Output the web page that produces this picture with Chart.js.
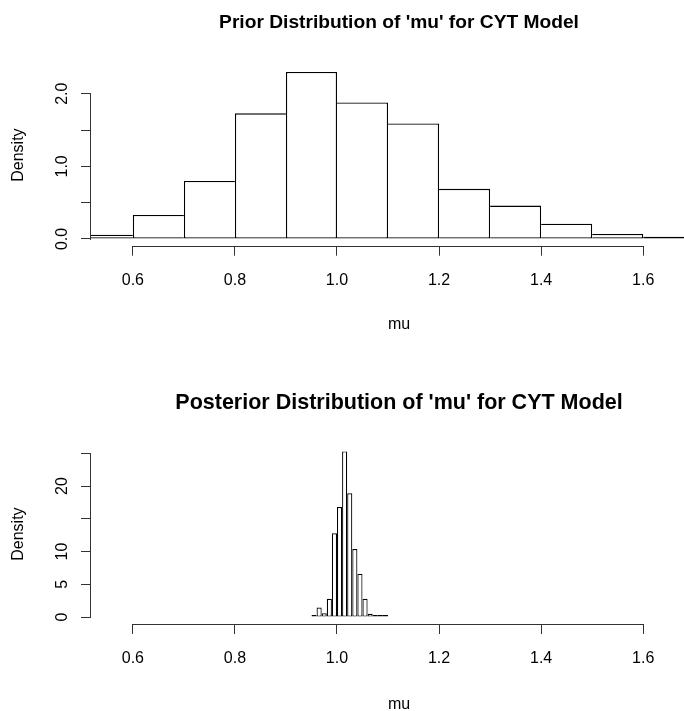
<!DOCTYPE html>
<html lang="en">
<head>
<meta charset="UTF-8" />
<title>Prior and Posterior Distribution of mu</title>
<script src="https://cdn.jsdelivr.net/npm/chart.js"></script>
<style>
  html, body { margin: 0; padding: 0; background: #fff; overflow: hidden; }
  canvas { position: absolute; left: 0; }
  #priorChart { top: 0; }
  #postChart { top: 380px; }
</style>
</head>
<body>
<canvas id="priorChart" width="708" height="340"></canvas>
<canvas id="postChart" width="708" height="340"></canvas>

<script>
  // x axis, same for both panels
  const xTicks = [0.6, 0.8, 1.0, 1.2, 1.4, 1.6];
  const xTickLabels = ["0.6", "0.8", "1.0", "1.2", "1.4", "1.6"];

  // prior histogram: bin midpoints (width 0.1) and density
  const priorMids = [0.55, 0.65, 0.75, 0.85, 0.95, 1.05, 1.15, 1.25, 1.35, 1.45, 1.55, 1.65];
  const priorDensity = [0.06, 0.33, 0.80, 1.73, 2.30, 1.88, 1.59, 0.69, 0.46, 0.21, 0.07, 0.03];
  const priorYTicks = [0, 0.5, 1.0, 1.5, 2.0];
  const priorYLabels = ["0.0", "", "1.0", "", "2.0"];

  // posterior histogram: bin midpoints (width 0.01) and density
  const postMids = [0.955, 0.965, 0.975, 0.985, 0.995, 1.005, 1.015, 1.025, 1.035, 1.045, 1.055, 1.065, 1.075, 1.085, 1.095];
  const postDensity = [0.1, 1.45, 0.6, 2.8, 12.8, 16.8, 25.3, 18.9, 10.4, 6.6, 2.8, 0.5, 0.3, 0.1, 0.15];
  const postYTicks = [0, 5, 10, 15, 20, 25];
  const postYLabels = ["0", "5", "10", "", "20", ""];

  const FONT = "'Liberation Sans', Arial, sans-serif";
  const AXIS = "#333";

  // R style axes: lines only from first to last tick, rotated y labels, title over plot
  const rAxes = {
    id: "rAxes",
    afterDraw(chart, args, opts) {
      const { ctx, chartArea, scales: { x, y } } = chart;
      ctx.save();
      ctx.strokeStyle = AXIS;
      ctx.lineWidth = 1;

      const xb = Math.round(chartArea.bottom) + 0.5;
      ctx.beginPath();
      ctx.moveTo(Math.round(x.getPixelForValue(xTicks[0])), xb);
      ctx.lineTo(Math.round(x.getPixelForValue(xTicks[xTicks.length - 1])) + 1, xb);
      ctx.stroke();

      const yl = Math.round(chartArea.left) - 0.5;
      ctx.beginPath();
      ctx.moveTo(yl, Math.round(y.getPixelForValue(opts.yTicks[0])) + 1);
      ctx.lineTo(yl, Math.round(y.getPixelForValue(opts.yTicks[opts.yTicks.length - 1])));
      ctx.stroke();

      ctx.fillStyle = "#000";
      ctx.font = "16px " + FONT;
      ctx.textAlign = "center";
      ctx.textBaseline = "middle";
      opts.yTicks.forEach((v, i) => {
        if (!opts.yLabels[i]) return;
        ctx.save();
        ctx.translate(chartArea.left - 28, y.getPixelForValue(v));
        ctx.rotate(-Math.PI / 2);
        ctx.fillText(opts.yLabels[i], 0, 0);
        ctx.restore();
      });

      ctx.font = "bold " + opts.titleSize + "px " + FONT;
      ctx.fillText(opts.title, (chartArea.left + chartArea.right) / 2, 23);
      ctx.restore();
    }
  };

  function makeHist(id, title, mids, dens, yTicks, yLabels, box) {
    const last = dens.length - 1;
    return new Chart(document.getElementById(id), {
      type: "bar",
      data: {
        datasets: [{
          data: mids.map((m, i) => ({ x: m, y: dens[i] })),
          backgroundColor: "#fff",
          borderColor: "#000",
          borderSkipped: false,
          inflateAmount: 0,
          minBarLength: 2,
          borderWidth: c => {
            const i = c.dataIndex, w = box.edge;
            if (box.fullEdges) return w;
            // shared edges drawn once, by the taller bar
            return {
              top: w,
              bottom: w,
              left: (i === 0 || dens[i] >= dens[i - 1]) ? w : 0,
              right: (i === last || dens[i] > dens[i + 1]) ? w : 0
            };
          },
          barPercentage: 1,
          categoryPercentage: 1
        }]
      },
      options: {
        responsive: false,
        animation: false,
        devicePixelRatio: 1,
        layout: { padding: { top: box.top, left: 0, right: 1, bottom: 0 } },
        plugins: {
          legend: { display: false },
          tooltip: { enabled: false },
          rAxes: { title, titleSize: box.titleSize, yTicks, yLabels }
        },
        scales: {
          x: {
            type: "linear",
            min: 0.518,
            max: 1.725,
            offset: false,
            afterBuildTicks: s => { s.ticks = xTicks.map(v => ({ value: v })); },
            afterFit: s => { s.height = 340 - box.bottom; },
            grid: { offset: false, drawOnChartArea: false, tickLength: 10, color: AXIS, lineWidth: 1 },
            border: { display: false },
            ticks: {
              autoSkip: false,
              maxRotation: 0,
              padding: 15,
              color: "#000",
              font: { family: FONT, size: 16 },
              callback: (v, i) => xTickLabels[i]
            },
            title: {
              display: true,
              text: "mu",
              color: "#000",
              font: { family: FONT, size: 16 },
              padding: { top: 0, bottom: 6 }
            }
          },
          y: {
            min: box.yMin,
            max: box.yMax,
            afterBuildTicks: s => { s.ticks = yTicks.map(v => ({ value: v })); },
            afterFit: s => { s.width = 91; },
            grid: { drawOnChartArea: false, tickLength: 10, color: AXIS, lineWidth: 1 },
            border: { display: false },
            ticks: { display: false },
            title: {
              display: true,
              text: "Density",
              color: "#000",
              font: { family: FONT, size: 16 },
              padding: { top: 9, bottom: 0 }
            }
          }
        }
      },
      plugins: [rAxes]
    });
  }

  makeHist("priorChart", "Prior Distribution of 'mu' for CYT Model",
    priorMids, priorDensity, priorYTicks, priorYLabels,
    { top: 64.5, bottom: 245.7, yMin: -0.0924, yMax: 2.4024, titleSize: 19.2, edge: 1.3, fullEdges: false });

  makeHist("postChart", "Posterior Distribution of 'mu' for CYT Model",
    postMids, postDensity, postYTicks, postYLabels,
    { top: 64.2, bottom: 244, yMin: -1.05, yMax: 26.4, titleSize: 21.5, edge: 1.2, fullEdges: true });
</script>
</body>
</html>
